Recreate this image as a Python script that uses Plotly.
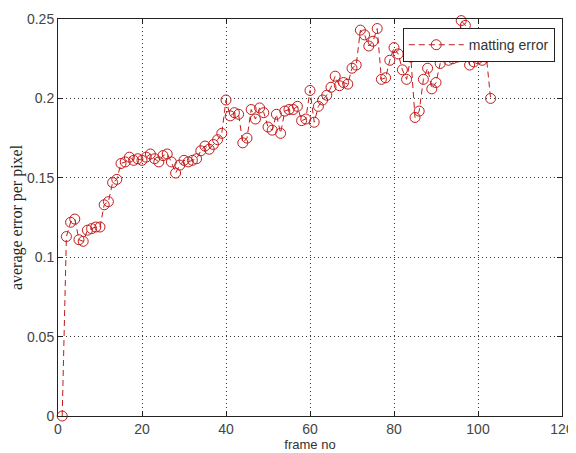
import plotly.graph_objects as go

frames = list(range(1, 104))
matting_error = [
    0.000, 0.113, 0.122, 0.124, 0.111, 0.110, 0.117, 0.118, 0.119, 0.119,
    0.133, 0.135, 0.147, 0.149, 0.159, 0.160, 0.163, 0.161, 0.162, 0.161,
    0.163, 0.165, 0.162, 0.160, 0.164, 0.165, 0.160, 0.153, 0.158, 0.161,
    0.160, 0.161, 0.162, 0.167, 0.170, 0.168, 0.171, 0.174, 0.178, 0.199,
    0.189, 0.191, 0.190, 0.172, 0.175, 0.193, 0.187, 0.194, 0.191, 0.182,
    0.180, 0.190, 0.178, 0.192, 0.193, 0.193, 0.195, 0.186, 0.187, 0.205,
    0.185, 0.195, 0.199, 0.202, 0.207, 0.214, 0.208, 0.210, 0.209, 0.219,
    0.221, 0.243, 0.240, 0.233, 0.236, 0.244, 0.212, 0.213, 0.224, 0.232,
    0.228, 0.218, 0.212, 0.226, 0.188, 0.192, 0.212, 0.219, 0.206, 0.210,
    0.222, 0.228, 0.224, 0.225, 0.226, 0.249, 0.246, 0.221, 0.223, 0.225,
    0.224, 0.226, 0.200,
]
x_ticks = [0, 20, 40, 60, 80, 100, 120]
y_ticks = [0, 0.05, 0.1, 0.15, 0.2, 0.25]
y_tick_labels = ["0", "0.05", "0.1", "0.15", "0.2", "0.25"]

red = "#c41a1a"

fig = go.Figure()
fig.add_trace(go.Scatter(
    x=frames, y=matting_error, mode="lines+markers", name="matting error",
    line=dict(color=red, width=1, dash="6px,4px"),
    marker=dict(symbol="circle-open", size=10, color=red, line=dict(width=1, color=red)),
    cliponaxis=False,
))

axis_common = dict(
    showline=True, linecolor="#222222", linewidth=1, mirror="ticks",
    ticks="inside", ticklen=5, tickcolor="#222222",
    showgrid=True, gridcolor="#333333", griddash="1px,3px", gridwidth=1,
    zeroline=False, automargin=False,
    tickfont=dict(family="Liberation Sans, Arial", size=14, color="#444444"),
)

# The page body adds an 8px offset, so the figure is 8px smaller on each side.
fig.update_layout(
    width=568, height=445,
    margin=dict(l=50, r=14, t=11, b=37),
    paper_bgcolor="white", plot_bgcolor="white",
    showlegend=True,
    legend=dict(
        x=0.684, y=0.977, xanchor="left", yanchor="top",
        bordercolor="#222222", borderwidth=1, bgcolor="white",
        font=dict(family="Liberation Sans, Arial", size=14, color="#333333"),
        itemwidth=55,
        tracegroupgap=0,
    ),
    xaxis=dict(
        range=[0, 120], tickvals=x_ticks,
        title=dict(text="frame no", standoff=0,
                   font=dict(family="Liberation Sans, Arial", size=13, color="#333333")),
        **axis_common,
    ),
    yaxis=dict(
        range=[0, 0.25], tickvals=y_ticks, ticktext=y_tick_labels,
        title=dict(text="average error per pixel", standoff=4,
                   font=dict(family="Liberation Serif, Times New Roman", size=16, color="#222222")),
        **axis_common,
    ),
)

fig.write_html("out.html")
